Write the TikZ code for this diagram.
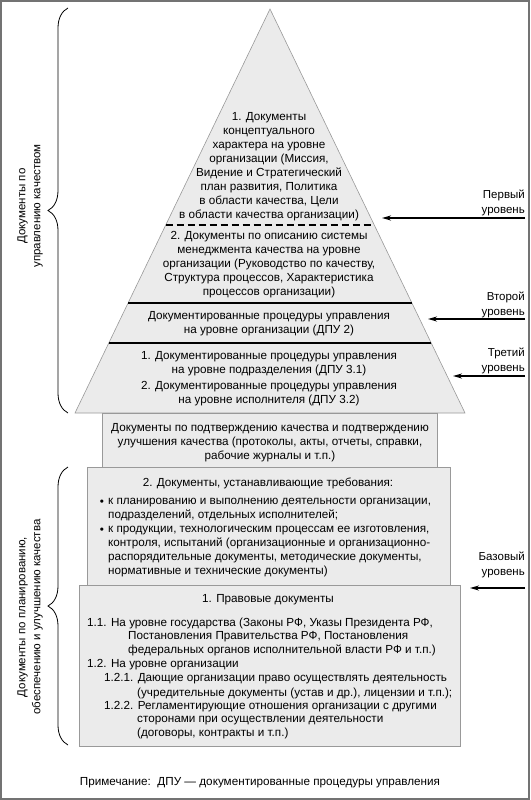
\documentclass[tikz,border=0pt]{standalone}
\usepackage{fontspec}
\setmainfont{Liberation Sans}
\usepackage{tikz}
\usetikzlibrary{arrows.meta, calc, decorations.pathreplacing}
\tikzset{
  every picture/.style={/utils/exec={\fontsize{11.7}{14}\selectfont}},
  layer/.style={fill=black!8, draw=black!40, line width=0.6pt},
  sep/.style={draw=black, line width=1.3pt},
  txt/.style={align=center, inner sep=0pt},
  item/.style={align=left, inner sep=0pt, anchor=west},
  lvl/.style={align=right, inner sep=0pt, anchor=east, font=\fontsize{11.5}{15}\selectfont},
  lvlarrow/.style={line width=2pt, -{Stealth[length=9pt, width=5pt]}},
  bracket/.style={decorate, decoration={brace, amplitude=20pt}, line width=0.8pt},
}

\begin{document}
\begin{tikzpicture}[x=1pt, y=-1pt, >=Stealth]
        \useasboundingbox (0,0) rectangle (530,800);
        \draw[black!55, line width=2pt] (1,1) rectangle (529,799);

        % Pyramid
        \coordinate (apex) at (270, 9);
        \coordinate (bl) at (75, 413);
        \coordinate (br) at (465, 413);
        \draw[layer] (apex) -- (br) -- (bl) -- cycle;
        \draw[sep, dash pattern=on 7pt off 4pt] ($(apex)!0.5347!(bl)$) -- ($(apex)!0.5347!(br)$);
        \draw[sep] ($(apex)!0.7277!(bl)$) -- ($(apex)!0.7277!(br)$);
        \draw[sep] ($(apex)!0.8267!(bl)$) -- ($(apex)!0.8267!(br)$);

        % Boxes below the pyramid
        \draw[layer] (102, 413) rectangle (437, 467);
        \draw[layer] (87, 467) rectangle (450, 585);
        \draw[layer] (79, 585) rectangle (460, 746);

        % Nodes
        \node[txt] (concept) at (269, 167) {1. Документы\\концептуального\\характера на уровне\\организации (Миссия,\\Видение и Стратегический\\план развития, Политика\\в области качества, Цели\\в области качества организации)};
        \node[txt] (qms) at (269, 265) {2. Документы по описанию системы\\менеджмента качества на уровне\\организации (Руководство по качеству,\\Структура процессов, Характеристика\\процессов организации)};
        \node[txt] (dpu2) at (269, 324) {Документированные процедуры управления\\на уровне организации (ДПУ 2)};
        \node[txt] (dpu31) at (269, 364) {1. Документированные процедуры управления\\на уровне подразделения (ДПУ 3.1)};
        \node[txt] (dpu32) at (269, 394) {2. Документированные процедуры  управления\\на уровне исполнителя (ДПУ 3.2)};

        \node[txt] (confirm) at (270, 443) {Документы по подтверждению качества и подтверждению\\улучшения качества (протоколы, акты, отчеты, справки,\\рабочие журналы и т.п.)};

        \node[txt] (req) at (268, 483) {2. Документы, устанавливающие требования:};
        \node[inner sep=0pt] (dot1) at (102, 503) {•};
        \node[item] (req1) at (108, 510) {к планированию и выполнению деятельности организации,\\подразделений, отдельных исполнителей;};
        \node[inner sep=0pt] (dot2) at (102, 531) {•};
        \node[item] (req2) at (108, 552) {к продукции, технологическим процессам ее изготовления,\\контроля, испытаний (организационные и организационно-\\распорядительные документы, методические документы,\\нормативные и технические документы)};

        \node[txt] (law) at (268, 600) {1. Правовые документы};
        \node[item] (law11) at (87, 623) {1.1. На уровне государства (Законы РФ, Указы Президента РФ,};
        \node[item] (law11b) at (128, 644) {Постановления Правительства РФ, Постановления\\федеральных органов исполнительной власти РФ и т.п.)};
        \node[item] (law12) at (87, 665) {1.2. На уровне организации};
        \node[item] (law121) at (104, 679) {1.2.1. Дающие организации право осуществлять деятельность};
        \node[item] (law121b) at (137, 693) {(учредительные документы (устав и др.), лицензии и т.п.);};
        \node[item] (law122) at (104, 707) {1.2.2. Регламентирующие отношения организации с другими};
        \node[item] (law122b) at (137, 728) {сторонами при осуществлении деятельности\\(договоры, контракты и т.п.)};

        % Braces and their captions
        \draw[bracket] (68, 413) -- (68, 8);
        \draw[bracket] (68, 745) -- (68, 467);
        \node[txt, rotate=90, font=\fontsize{11.5}{15}\selectfont] (mgmt) at (30, 206) {Документы по\\управлению качеством};
        \node[txt, rotate=90, font=\fontsize{11.5}{15}\selectfont] (plan) at (30, 617) {Документы по планированию,\\обеспечению и улучшению качества};

        % Levels
        \node[lvl] (lvl1) at (525, 203) {Первый\\уровень};
        \node[lvl] (lvl2) at (525, 305) {Второй\\уровень};
        \node[lvl] (lvl3) at (525, 361) {Третий\\уровень};
        \node[lvl] (lvl0) at (525, 565) {Базовый\\уровень};
        \coordinate (s1) at (525, 218);
        \coordinate (t1) at (382, 218);
        \coordinate (s2) at (525, 319);
        \coordinate (t2) at (428, 319);
        \coordinate (s3) at (525, 376);
        \coordinate (t3) at (453, 376);
        \coordinate (s0) at (525, 588);
        \coordinate (t0) at (470, 588);
        \draw[lvlarrow] (s1) -- (t1);
        \draw[lvlarrow] (s2) -- (t2);
        \draw[lvlarrow] (s3) -- (t3);
        \draw[lvlarrow] (s0) -- (t0);

        \node[txt] (note) at (260, 783) {Примечание:\ \ ДПУ — документированные процедуры управления};
    \end{tikzpicture}
\end{document}
